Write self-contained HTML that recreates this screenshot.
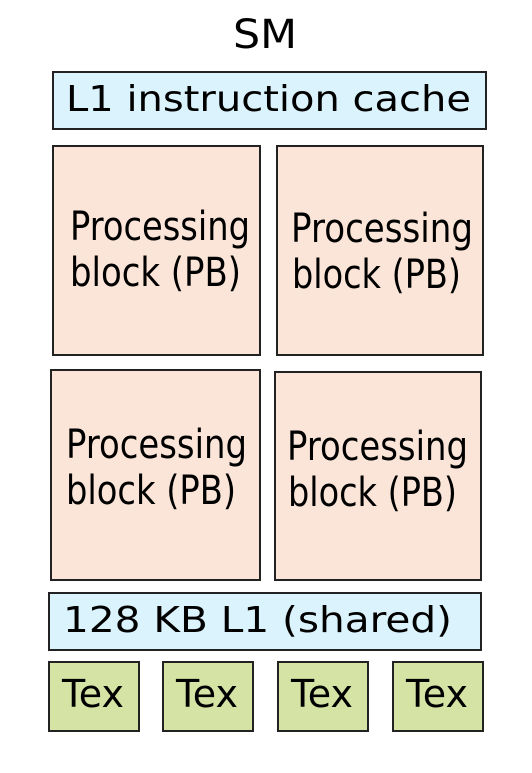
<!DOCTYPE html>
<html><head><style>html,body{margin:0;padding:0;background:#fff}</style></head><body>
<svg width="532" height="768" xmlns="http://www.w3.org/2000/svg" font-family="DejaVu Sans, Liberation Sans, sans-serif" fill="#000">
<text x="233" y="48" font-size="40" textLength="64" lengthAdjust="spacingAndGlyphs">SM</text>
<g stroke="#222" stroke-width="2">
<rect x="53" y="72" width="433" height="57" fill="#dbf3fc"/>
<rect x="53" y="146" width="207" height="209" fill="#fae5d8"/>
<rect x="277" y="146" width="206" height="209" fill="#fae5d8"/>
<rect x="51" y="370" width="209" height="210" fill="#fae5d8"/>
<rect x="275" y="372" width="206" height="208" fill="#fae5d8"/>
<rect x="49" y="593" width="432" height="57" fill="#dbf3fc"/>
<rect x="49" y="662" width="90" height="69" fill="#d5e4a5"/>
<rect x="163" y="662" width="90" height="69" fill="#d5e4a5"/>
<rect x="278" y="662" width="90" height="69" fill="#d5e4a5"/>
<rect x="393" y="662" width="90" height="69" fill="#d5e4a5"/>
</g>
<text x="66" y="111" font-size="36" textLength="405" lengthAdjust="spacingAndGlyphs">L1 instruction cache</text>
<text x="70" y="240" font-size="40" textLength="180" lengthAdjust="spacingAndGlyphs">Processing</text>
<text x="70" y="286" font-size="40" textLength="171" lengthAdjust="spacingAndGlyphs">block (PB)</text>
<text x="291" y="242" font-size="40" textLength="182" lengthAdjust="spacingAndGlyphs">Processing</text>
<text x="292" y="288" font-size="40" textLength="169" lengthAdjust="spacingAndGlyphs">block (PB)</text>
<text x="66" y="458" font-size="40" textLength="181" lengthAdjust="spacingAndGlyphs">Processing</text>
<text x="66" y="504" font-size="40" textLength="170" lengthAdjust="spacingAndGlyphs">block (PB)</text>
<text x="287" y="460" font-size="40" textLength="181" lengthAdjust="spacingAndGlyphs">Processing</text>
<text x="288" y="506" font-size="40" textLength="169" lengthAdjust="spacingAndGlyphs">block (PB)</text>
<text x="63" y="632" font-size="36" textLength="389" lengthAdjust="spacingAndGlyphs">128 KB L1 (shared)</text>
<text x="62" y="707" font-size="38" textLength="62" lengthAdjust="spacingAndGlyphs">Tex</text>
<text x="176" y="707" font-size="38" textLength="62" lengthAdjust="spacingAndGlyphs">Tex</text>
<text x="291" y="707" font-size="38" textLength="62" lengthAdjust="spacingAndGlyphs">Tex</text>
<text x="406" y="707" font-size="38" textLength="62" lengthAdjust="spacingAndGlyphs">Tex</text>
</svg>
</body></html>
